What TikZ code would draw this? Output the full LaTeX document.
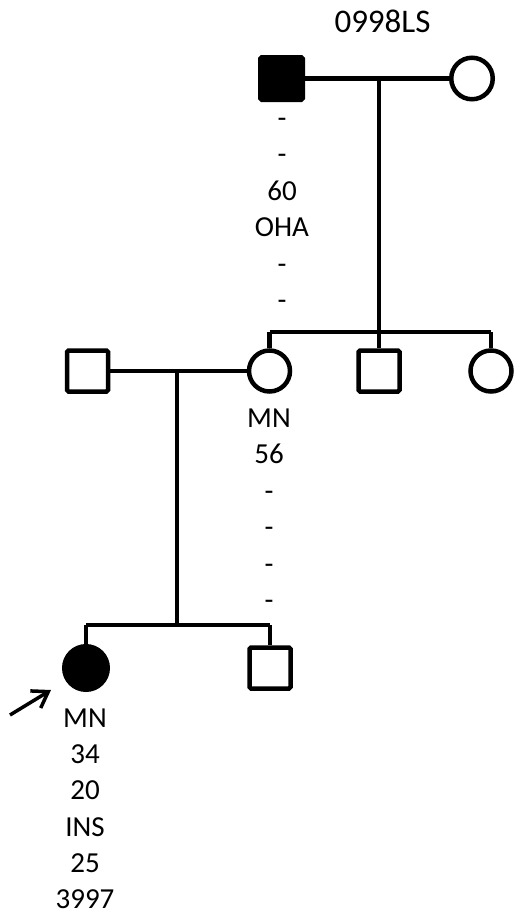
\documentclass[tikz,border=0pt]{standalone}
\usepackage{fontspec}
\setmainfont{Carlito}
\usetikzlibrary{arrows.meta}
\begin{document}
\begin{tikzpicture}[x=1pt,y=-1pt,line width=4.5pt,
  sq/.style={draw,rectangle,rounded corners=1.5pt,minimum size=41pt,inner sep=0pt,line width=4.5pt},
  ci/.style={draw,circle,minimum size=41pt,inner sep=0pt,line width=4.5pt},
  lbl/.style={font=\fontsize{29}{32}\selectfont,anchor=base,inner sep=0pt},
  ttl/.style={font=\fontsize{33}{36}\selectfont,anchor=base,inner sep=0pt},
  con/.style={line width=4.5pt}]
\useasboundingbox (0,0) rectangle (518,924);
% generation I
\node[sq,fill=black,minimum size=42.5pt] (gf) at (281.5,78.5) {};
\node[ci,minimum size=41.5pt] (gm) at (472,78.5) {};
\node[ttl] (title) at (382.5,32) {0998LS};
% generation II
\node[sq] (h) at (87.5,371) {};
\node[ci] (mo) at (269.5,371) {};
\node[sq] (br) at (379,371) {};
\node[ci] (si) at (491,371) {};
% generation III
\node[ci,fill=black,minimum size=43.5pt] (pb) at (86,668) {};
\node[sq] (bro) at (270,668) {};
% connector points
\coordinate (m1) at (379,78.5);
\coordinate (s1) at (379,332);
\coordinate (sl1) at (269.5,332);
\coordinate (sr1) at (491,332);
\coordinate (m2) at (177,371);
\coordinate (s2) at (177,625);
\coordinate (sl2) at (86,625);
\coordinate (sr2) at (270,625);
\draw[con] (gf.east) -- (gm.west);
\draw[con] (m1) -- (s1);
\draw[con] (sl1) -- (sr1);
\draw[con] (sl1) -- (mo.north);
\draw[con] (s1) -- (br.north);
\draw[con] (sr1) -- (si.north);
\draw[con] (h.east) -- (mo.west);
\draw[con,line width=4pt] (m2) -- (s2);
\draw[con] (sl2) -- (sr2);
\draw[con] (sl2) -- (pb.north);
\draw[con] (sr2) -- (bro.north);
% proband arrow
\coordinate (arS) at (10,715);
\coordinate (arT) at (51,690);
\draw[line width=3.5pt,-{Straight Barb[length=15pt,width=20pt,line width=3.5pt]}] (arS) -- (arT);
% labels
\foreach \t/\yy [count=\i] in {-/127,-/163.5,60/200,OHA/236.5,-/273,-/309.5}
  \node[lbl] (la\i) at (282,\yy) {\t};
\foreach \t/\yy [count=\i] in {MN/427,56/463.5,-/500,-/536.5,-/573,-/609.5}
  \node[lbl] (lb\i) at (269,\yy) {\t};
\foreach \t/\yy [count=\i] in {MN/727,34/763,20/799.5,INS/836,25/872,3997/908}
  \node[lbl] (lc\i) at (85,\yy) {\t};
\end{tikzpicture}
\end{document}
